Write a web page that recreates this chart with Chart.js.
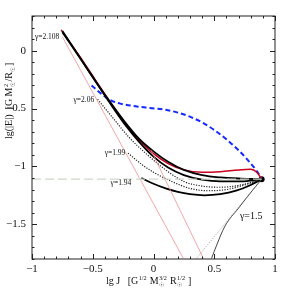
<!DOCTYPE html>
<html>
<head>
<meta charset="utf-8">
<script src="https://cdn.jsdelivr.net/npm/chart.js@4.4.1/dist/chart.umd.min.js"></script>
<style>
  html, body { margin: 0; padding: 0; background: #fff; }
  #wrap { width: 291px; height: 291px; }
</style>
</head>
<body>
<div id="wrap"><canvas id="chart"></canvas></div>
<script>
// lg J and lg|E| values
const endX = [0.89];
const endY = [-1.11];

const outerBlackX = [-0.75, -0.6, -0.48, -0.36, -0.24, -0.12, 0.0, 0.12, 0.25, 0.4, 0.55, 0.72, 0.89];
const outerBlackY = [0.17, -0.07, -0.26, -0.44, -0.61, -0.76, -0.87, -0.96, -1.03, -1.075, -1.095, -1.105, -1.11];

const redThickX = [-0.76, -0.6, -0.48, -0.36, -0.24, -0.12, 0.0, 0.12, 0.25, 0.4, 0.55, 0.7, 0.8, 0.85, 0.89];
const redThickY = [0.18, -0.06, -0.25, -0.44, -0.62, -0.77, -0.89, -0.975, -1.03, -1.05, -1.045, -1.03, -1.025, -1.05, -1.11];

const innerBlackX = [-0.75, -0.6, -0.48, -0.36, -0.24, -0.12, 0.0, 0.12, 0.25, 0.4, 0.55, 0.72, 0.89];
const innerBlackY = [0.16, -0.07, -0.26, -0.45, -0.63, -0.785, -0.915, -1.01, -1.075, -1.115, -1.13, -1.13, -1.11];

const dot206X = [-0.46, -0.35, -0.2, -0.05, 0.1, 0.25, 0.4, 0.55, 0.72, 0.89];
const dot206Y = [-0.42, -0.56, -0.75, -0.9, -1.03, -1.13, -1.17, -1.18, -1.16, -1.11];

const dot199X = [-0.21, -0.1, 0.0, 0.15, 0.3, 0.45, 0.6, 0.75, 0.89];
const dot199Y = [-0.885, -0.98, -1.05, -1.13, -1.19, -1.21, -1.2, -1.16, -1.11];

const black194X = [-0.1, 0.0, 0.1, 0.2, 0.3, 0.42, 0.55, 0.68, 0.8, 0.89];
const black194Y = [-1.1, -1.15, -1.19, -1.22, -1.24, -1.25, -1.24, -1.21, -1.16, -1.11];

const blueX = [-0.51, -0.42, -0.36, -0.28, -0.15, -0.03, 0.1, 0.2, 0.3, 0.4, 0.5, 0.6, 0.7, 0.78, 0.85, 0.89];
const blueY = [-0.3, -0.38, -0.425, -0.455, -0.48, -0.495, -0.51, -0.535, -0.57, -0.62, -0.685, -0.765, -0.86, -0.95, -1.04, -1.106];

const g15SolidX = [0.478, 0.52, 0.588, 0.7, 0.82, 0.89];
const g15SolidY = [-1.794, -1.68, -1.516, -1.36, -1.2, -1.11];

const g15DotX = [0.354, 0.89];
const g15DotY = [-1.794, -1.11];

const redThin1X = [-0.75, 0.245];
const redThin1Y = [0.12, -1.794];

const redThin2X = [-0.02, 0.41];
const redThin2Y = [-0.86, -1.794];

const levelX = [-1, 0.89];
const levelY = [-1.11, -1.11];

const xMajor = [-1, -0.5, 0, 0.5, 1];
const yMajor = [0, -0.5, -1, -1.5];

const SERIF = '"Liberation Serif", "DejaVu Serif", serif';

function pts(xs, ys) {
  return xs.map((x, i) => ({ x, y: ys[i] }));
}

function isMajor(v, list) {
  return list.some((m) => Math.abs(m - v) < 1e-6);
}

function fmt(v) {
  const s = String(Math.round(v * 10) / 10);
  return s.replace("-", "\u2212");
}

function line(data, color, width, dash) {
  return {
    data,
    borderColor: color,
    borderWidth: width,
    borderDash: dash || [],
    pointRadius: 0,
    fill: false,
    cubicInterpolationMode: "monotone"
  };
}

function drawRich(ctx, x, y, parts, size) {
  parts.forEach((p) => {
    ctx.font = `${size}px ${SERIF}`;
    ctx.fillText(p.t, x, y);
    x += ctx.measureText(p.t).width;
    let w = 0;
    ctx.font = `${size * 0.62}px ${SERIF}`;
    if (p.sup) {
      ctx.fillText(p.sup, x + 0.5, y - size * 0.38);
      w = ctx.measureText(p.sup).width;
    }
    if (p.sub) {
      ctx.fillText(p.sub, x + 0.5, y + size * 0.28);
      w = Math.max(w, ctx.measureText(p.sub).width);
    }
    if (w) x += w + 1;
  });
}

const decorations = {
  id: "decorations",
  afterDraw(c) {
    const ctx = c.ctx;
    const xs = c.scales.x;
    const ys = c.scales.y;
    const a = c.chartArea;
    ctx.save();
    ctx.strokeStyle = "#222";
    ctx.lineWidth = 1;
    ctx.strokeRect(a.left, a.top, a.right - a.left, a.bottom - a.top);

    ctx.beginPath();
    xs.ticks.forEach((t) => {
      const px = Math.round(xs.getPixelForValue(t.value)) + 0.5;
      const len = isMajor(t.value, xMajor) ? 5 : 2.5;
      ctx.moveTo(px, a.bottom); ctx.lineTo(px, a.bottom - len);
      ctx.moveTo(px, a.top); ctx.lineTo(px, a.top + len);
    });
    ys.ticks.forEach((t) => {
      const py = Math.round(ys.getPixelForValue(t.value)) + 0.5;
      const len = isMajor(t.value, yMajor) ? 5 : 2.5;
      ctx.moveTo(a.left, py); ctx.lineTo(a.left + len, py);
      ctx.moveTo(a.right, py); ctx.lineTo(a.right - len, py);
    });
    ctx.stroke();

    ctx.fillStyle = "#111";
    ctx.textBaseline = "middle";
    ctx.font = `7.5px ${SERIF}`;
    [["\u03b3=2.108", -0.976, 0.116], ["\u03b3=2.06", -0.658, -0.426],
     ["\u03b3=1.99", -0.402, -0.882], ["\u03b3=1.94", -0.353, -1.14]].forEach(([s, x, y]) => {
      ctx.fillText(s, xs.getPixelForValue(x), ys.getPixelForValue(y));
    });
    ctx.font = `10px ${SERIF}`;
    ctx.fillText("\u03b3=1.5", xs.getPixelForValue(0.711), ys.getPixelForValue(-1.433));

    ctx.textBaseline = "alphabetic";
    drawRich(ctx, 106, 284, [
      { t: "lg J   [G", sup: "1/2" },
      { t: " M", sup: "3/2", sub: "\u2609" },
      { t: " R", sup: "1/2", sub: "\u2609" },
      { t: " ]" }
    ], 10);

    ctx.translate(12, 139);
    ctx.rotate(-Math.PI / 2);
    drawRich(ctx, 0, 0, [
      { t: "lg(|E|)  [G M", sup: "2", sub: "\u2609" },
      { t: "/R", sub: "\u2609" },
      { t: "]" }
    ], 10);
    ctx.restore();
  }
};

new Chart(document.getElementById("chart"), {
  type: "line",
  data: {
    datasets: [
      line(pts(levelX, levelY), "#cdd9ca", 1.1, [9, 4]),
      line(pts(redThin1X, redThin1Y), "#f09090", 0.8),
      line(pts(redThin2X, redThin2Y), "#f09090", 0.8),
      line(pts(g15DotX, g15DotY), "#777", 0.7, [1, 1.5]),
      line(pts(g15SolidX, g15SolidY), "#333", 0.9),
      line(pts(dot206X, dot206Y), "#222", 1.2, [1.2, 1.4]),
      line(pts(dot199X, dot199Y), "#222", 1.2, [1.2, 1.4]),
      line(pts(black194X, black194Y), "#000", 1.8),
      line(pts(innerBlackX, innerBlackY), "#000", 1.8),
      line(pts(outerBlackX, outerBlackY), "#000", 1.8),
      line(pts(redThickX, redThickY), "#c8001e", 1.5),
      line(pts(blueX, blueY), "#1428ff", 2, [5, 3]),
      {
        data: pts(endX, endY),
        showLine: false,
        pointRadius: 3,
        pointBackgroundColor: "#000",
        pointBorderWidth: 0
      }
    ]
  },
  options: {
    responsive: true,
    maintainAspectRatio: false,
    animation: false,
    layout: { padding: { top: 16, right: 16, left: 0, bottom: 0 } },
    plugins: { legend: { display: false }, tooltip: { enabled: false } },
    scales: {
      x: {
        type: "linear",
        min: -1,
        max: 1,
        grid: { display: false, drawTicks: false },
        border: { display: false },
        afterFit: (s) => { s.height = 32; },
        ticks: {
          stepSize: 0.1,
          autoSkip: false,
          maxRotation: 0,
          padding: 4,
          color: "#111",
          font: { family: SERIF, size: 11 },
          callback: (v) => (isMajor(v, xMajor) ? fmt(v) : "")
        }
      },
      y: {
        type: "linear",
        min: -1.8,
        max: 0.3,
        grid: { display: false, drawTicks: false },
        border: { display: false },
        afterFit: (s) => { s.width = 32; },
        ticks: {
          stepSize: 0.1,
          autoSkip: false,
          padding: 6,
          color: "#111",
          font: { family: SERIF, size: 11 },
          callback: (v) => (isMajor(v, yMajor) ? fmt(v) : "")
        }
      }
    }
  },
  plugins: [decorations]
});
</script>
</body>
</html>
